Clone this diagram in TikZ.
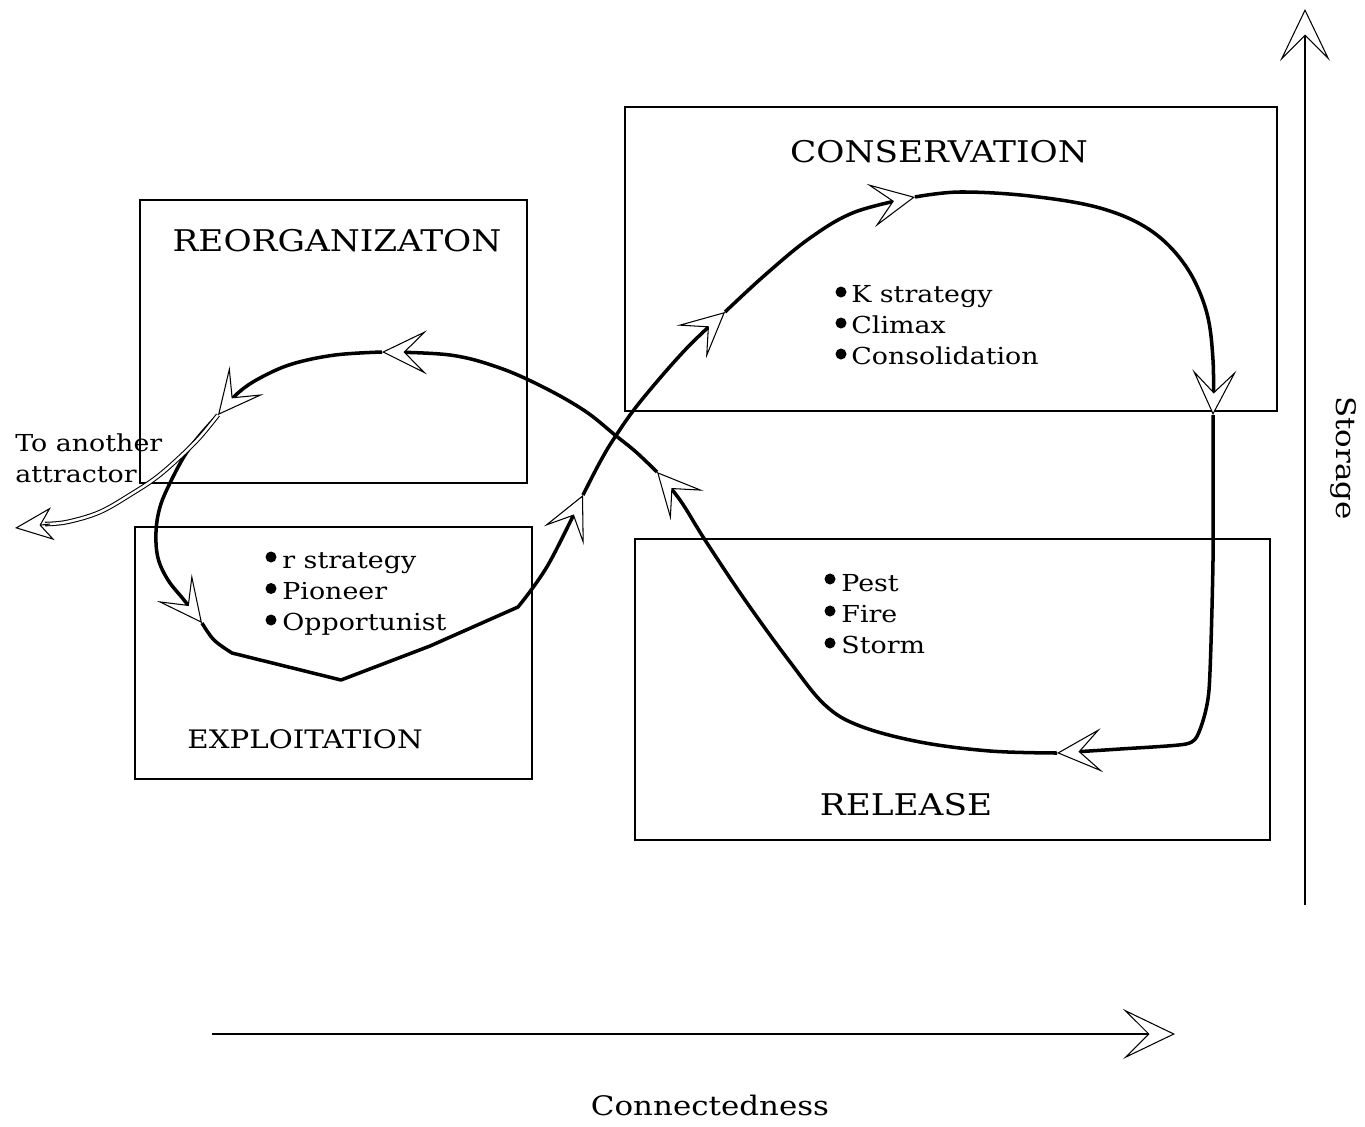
\documentclass[tikz,border=0pt]{standalone}
\usepackage{fontspec}
\setmainfont{DejaVu Serif}[FakeStretch=1.15]
\usetikzlibrary{arrows.meta}

\tikzset{
  chev/.tip={Stealth[length=0.9cm,width=0.88cm,inset=0.44cm,fill=white,line width=0.6pt]},
  bigchev/.tip={Stealth[length=1.04cm,width=1cm,inset=0.5cm,fill=white,line width=0.6pt]},
  smallchev/.tip={Stealth[length=0.76cm,width=0.66cm,inset=0.24cm,fill=white,line width=0.6pt]}
}

\begin{document}
\begin{tikzpicture}[x=0.02cm,y=-0.02cm,
  box/.style={line width=1pt},
  loopline/.style={line width=2pt,line join=round},
  axisline/.style={line width=1.1pt},
  branch/.style={line width=0.6pt,double=white,double distance=1.4pt},
  title/.style={font=\fontsize{17}{20}\selectfont,anchor=base,inner sep=0pt},
  item/.style={font=\fontsize{13.3}{17.6}\selectfont,anchor=base west,align=left,inner sep=0pt}]
\useasboundingbox (0,0) rectangle (1365,1126);

\draw[box] (140,200) rectangle (527,483);
\draw[box] (135,527) rectangle (532,779);
\draw[box] (625,107) rectangle (1277,411);
\draw[box] (635,539) rectangle (1270,840);

\node[title] (reorgtitle) at (337,251) {REORGANIZATON};
\node[title] (constitle) at (939,162) {CONSERVATION};
\node[title,font=\fontsize{14.5}{17}\selectfont] (exptitle) at (305,748) {EXPLOITATION};
\node[title] (reltitle) at (906,815) {RELEASE};

% base anchor sits on the last line
\node[item] (conslist) at (851,364) {K strategy\\Climax\\Consolidation};
\node[item] (expllist) at (282,630) {r strategy\\Pioneer\\Opportunist};
\node[item] (rellist) at (841,653) {Pest\\Fire\\Storm};
\foreach \k in {0,1,2} {
  \fill (841,{292+31*\k}) circle[radius=5.5];
  \fill (271,{557+31.5*\k}) circle[radius=5.5];
  \fill (830,{579+32*\k}) circle[radius=5.5];
}

\node[item] (toanother) at (15,482) {To another\\attractor};

\coordinate (sbot) at (1305,905);
\coordinate (stop) at (1305,9);
\draw[axisline,-bigchev] (sbot) -- (stop);
\node[font=\fontsize{15.3}{18}\selectfont,rotate=-90] (storage) at (1343,458) {Storage};

\coordinate (cleft) at (212,1034);
\coordinate (cright) at (1175,1034);
\draw[axisline,-bigchev] (cleft) -- (cright);
\node[title,font=\fontsize{15.3}{18}\selectfont] (conn) at (710,1115) {Connectedness};

\draw[loopline,-chev] plot[smooth,tension=0.6] coordinates {(202,623) (214,640) (232,653)}
  -- (341,680) -- (430,646) -- (518,607)
  -- plot[smooth,tension=0.6] coordinates {(518,607) (548,565) (583,495)};
\draw[loopline,-chev] plot[smooth,tension=0.6] coordinates {(583,495) (600,462) (615,437) (640,402) (685,350) (725,312)};
\draw[loopline,-chev] plot[smooth,tension=0.6] coordinates {(725,312) (765,275) (810,238) (855,212) (915,197)};
\draw[loopline,-chev] plot[smooth,tension=0.6] coordinates {(915,197) (960,192) (1030,196) (1100,208) (1150,230) (1185,265) (1206,310) (1213,360) (1213,415)};
\draw[loopline,-chev] plot[smooth,tension=0.4] coordinates {(1213,415) (1213,560) (1209,690) (1199,732) (1186,744) (1120,749) (1057,753)};
\draw[loopline,-chev] plot[smooth,tension=0.6] coordinates {(1057,753) (990,751) (920,742) (860,726) (825,705) (790,662) (745,600) (705,540) (680,500) (657,472)};
\draw[loopline,-chev] plot[smooth,tension=0.6] coordinates {(657,472) (636,452) (615,435) (585,411) (545,388) (500,368) (450,355) (382,352)};
\draw[loopline,-chev] plot[smooth,tension=0.6] coordinates {(382,352) (335,355) (292,364) (260,378) (238,393) (218,415)};
\draw[loopline,-chev] plot[smooth,tension=0.6] coordinates {(218,415) (200,435) (185,455) (170,483) (160,507) (156,532) (158,558) (168,580) (184,600) (202,623)};

\draw[branch] plot[smooth,tension=0.6] coordinates {(218,415) (200,437) (180,457) (157,477) (133,493) (100,512) (67,522) (45,524)};
\coordinate (branchend) at (50,524);
\coordinate (otherattr) at (15,528);
\draw[line width=0.6pt,-smallchev] (branchend) -- (otherattr);
\end{tikzpicture}
\end{document}
